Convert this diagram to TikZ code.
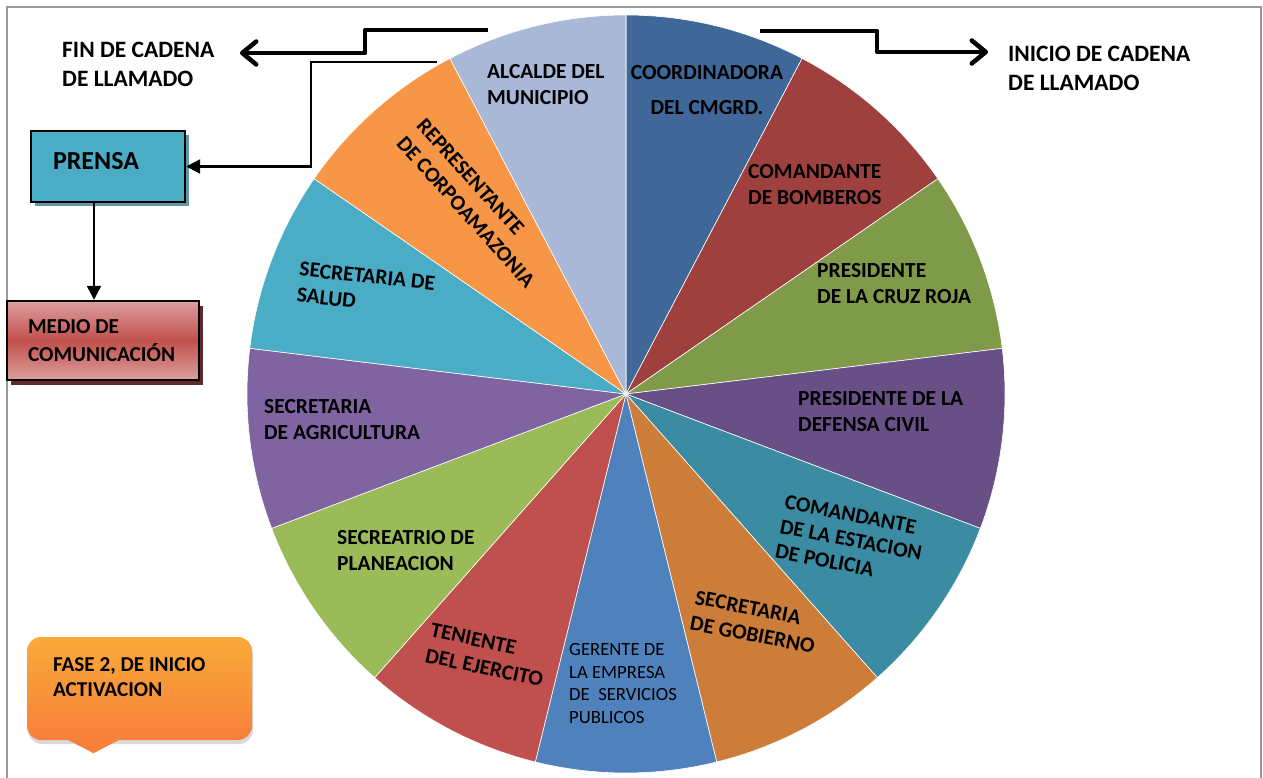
\documentclass[tikz,border=0pt]{standalone}
\usepackage{fontspec}
\setmainfont{Carlito}
\usetikzlibrary{arrows.meta,shadows}

\definecolor{coordblue}{HTML}{3F6797}
\definecolor{bomberred}{HTML}{9E413E}
\definecolor{cruzgreen}{HTML}{7F9A48}
\definecolor{civilpurple}{HTML}{684F86}
\definecolor{policeteal}{HTML}{3B8CA2}
\definecolor{gobierno}{HTML}{CC7D3A}
\definecolor{gerenteblue}{HTML}{4F81BD}
\definecolor{ejercitored}{HTML}{C0504D}
\definecolor{planegreen}{HTML}{9BBB59}
\definecolor{agripurple}{HTML}{8064A2}
\definecolor{saludaqua}{HTML}{4BACC6}
\definecolor{corpoorange}{HTML}{F79646}
\definecolor{alcaldeblue}{HTML}{A9B8D7}
\definecolor{framegray}{HTML}{9A9A9A}

\begin{document}
\begin{tikzpicture}[x=1pt, y=1pt,
        slice/.style={draw=white, line width=0.6pt},
        pielabel/.style={font=\fontsize{21.5}{26}\selectfont\bfseries, align=left, inner sep=0pt},
        chainlabel/.style={font=\fontsize{23.5}{29}\selectfont\bfseries, align=left, inner sep=0pt},
        chain/.style={line width=4.5pt, line join=round, -{Straight Barb[length=14pt, width=23pt, round]}},
        feed/.style={line width=2.3pt, -{Triangle[length=14pt, width=14pt]}},
        prensabox/.style={draw, line width=2.4pt, fill=saludaqua, minimum width=154pt, minimum height=71pt,
            inner xsep=22pt, text width=110pt, align=flush left, text depth=12pt,
            font=\fontsize{26}{31}\selectfont\bfseries,
            drop shadow={fill=saludaqua!50!gray, opacity=1, shadow xshift=4pt, shadow yshift=-4pt}},
        mediobox/.style={draw, line width=2.4pt, top color=ejercitored!55!white, bottom color=ejercitored!55!white,
            middle color=ejercitored, minimum width=192pt, minimum height=79pt,
            inner xsep=21pt, text width=150pt, align=flush left,
            font=\fontsize{21.3}{28}\selectfont\bfseries,
            drop shadow={fill=ejercitored!50!black, opacity=1, shadow xshift=4pt, shadow yshift=-5pt}},
        fasebox/.style={rounded corners=14pt, top color=corpoorange!80!yellow, bottom color=corpoorange!85!red,
            minimum width=225pt, minimum height=103pt,
            drop shadow={opacity=0.3, shadow xshift=1pt, shadow yshift=-4pt}}]
        \useasboundingbox (0,0) rectangle (1263,777);
        \draw[framegray, line width=2pt] (7,-5) -- (7,770) -- (1261,770) -- (1261,-5);

        % pie of the call chain, clockwise from the top
        \coordinate (ctr) at (626,383);
        \filldraw[slice, fill=coordblue] (ctr) -- ++(90:379) arc[start angle=90, end angle=62.31, radius=379] -- cycle;
        \filldraw[slice, fill=bomberred] (ctr) -- ++(62.31:379) arc[start angle=62.31, end angle=34.62, radius=379] -- cycle;
        \filldraw[slice, fill=cruzgreen] (ctr) -- ++(34.62:379) arc[start angle=34.62, end angle=6.92, radius=379] -- cycle;
        \filldraw[slice, fill=civilpurple] (ctr) -- ++(6.92:379) arc[start angle=6.92, end angle=-20.77, radius=379] -- cycle;
        \filldraw[slice, fill=policeteal] (ctr) -- ++(-20.77:379) arc[start angle=-20.77, end angle=-48.46, radius=379] -- cycle;
        \filldraw[slice, fill=gobierno] (ctr) -- ++(-48.46:379) arc[start angle=-48.46, end angle=-76.15, radius=379] -- cycle;
        \filldraw[slice, fill=gerenteblue] (ctr) -- ++(-76.15:379) arc[start angle=-76.15, end angle=-103.85, radius=379] -- cycle;
        \filldraw[slice, fill=ejercitored] (ctr) -- ++(-103.85:379) arc[start angle=-103.85, end angle=-131.54, radius=379] -- cycle;
        \filldraw[slice, fill=planegreen] (ctr) -- ++(-131.54:379) arc[start angle=-131.54, end angle=-159.23, radius=379] -- cycle;
        \filldraw[slice, fill=agripurple] (ctr) -- ++(-159.23:379) arc[start angle=-159.23, end angle=-186.92, radius=379] -- cycle;
        \filldraw[slice, fill=saludaqua] (ctr) -- ++(-186.92:379) arc[start angle=-186.92, end angle=-214.62, radius=379] -- cycle;
        \filldraw[slice, fill=corpoorange] (ctr) -- ++(-214.62:379) arc[start angle=-214.62, end angle=-242.31, radius=379] -- cycle;
        \filldraw[slice, fill=alcaldeblue] (ctr) -- ++(-242.31:379) arc[start angle=-242.31, end angle=-270, radius=379] -- cycle;

        \node[pielabel, align=center, font=\fontsize{21.5}{35}\selectfont\bfseries] (coord) at (707,686.5) {COORDINADORA\\DEL CMGRD.};
        \node[pielabel, anchor=west] (bomb) at (748,592) {COMANDANTE\\DE BOMBEROS};
        \node[pielabel, anchor=west] (cruz) at (817,493) {PRESIDENTE\\DE LA CRUZ ROJA};
        \node[pielabel, anchor=west] (civil) at (798,365.5) {PRESIDENTE DE LA\\DEFENSA CIVIL};
        \node[pielabel, rotate=-11, font=\fontsize{21.5}{25}\selectfont\bfseries] (policia) at (851,237) {COMANDANTE\\DE LA ESTACION\\DE POLICIA};
        \node[pielabel, rotate=-11] (gob) at (755,155) {SECRETARIA\\DE GOBIERNO};
        \node[pielabel, anchor=west, font=\fontsize{18.7}{22.5}\selectfont] (gerente) at (569,93.5) {GERENTE DE\\LA EMPRESA\\DE\ \ SERVICIOS\\PUBLICOS};
        \node[pielabel, rotate=-12] (teniente) at (487,122) {TENIENTE\\DEL EJERCITO};
        \node[pielabel, anchor=west] (plan) at (337,226.5) {SECREATRIO DE\\PLANEACION};
        \node[pielabel, anchor=west] (agri) at (264,357.5) {SECRETARIA\\DE AGRICULTURA};
        \node[pielabel, rotate=-6] (salud) at (366,488) {SECRETARIA DE\\SALUD};
        \node[pielabel, rotate=-48, font=\fontsize{21.5}{27}\selectfont\bfseries] (corpo) at (476,574) {REPRESENTANTE\\DE CORPOAMAZONIA};
        \node[pielabel, anchor=west] (alcalde) at (487,692.5) {ALCALDE DEL\\MUNICIPIO};

        % start and end of the chain
        \node[chainlabel, anchor=west] (fin) at (62,712.5) {FIN DE CADENA\\DE LLAMADO};
        \node[chainlabel, anchor=west] (inicio) at (1008,709) {INICIO DE CADENA\\DE LLAMADO};
        \coordinate (finstart) at (488,747);
        \coordinate (finend) at (240,724);
        \coordinate (inistart) at (760,746);
        \coordinate (iniend) at (988,725);
        \draw[chain] (finstart) -- ++(-123,0) |- (finend);
        \draw[chain] (inistart) -- ++(117,0) |- (iniend);

        % press branch
        \node[prensabox] (prensa) at (108,610.5) {PRENSA};
        \node[mediobox] (medio) at (103,436.5) {MEDIO DE\\COMUNICACIÓN};
        \coordinate (prstart) at (437,715);
        \draw[feed] (prstart) -- ++(-126,0) |- (prensa.east);
        \draw[feed] ([xshift=-14pt]prensa.south) -- ([xshift=-14pt]prensa.south |- medio.north);

        \node[fasebox] (fase) at (139.5,88.5) {};
        \fill[corpoorange!85!red] ([xshift=-73pt, yshift=1pt]fase.south) -- ([xshift=-46pt, yshift=-13pt]fase.south) -- ([xshift=-19pt, yshift=1pt]fase.south) -- cycle;
        \node[pielabel, font=\fontsize{21.2}{25}\selectfont\bfseries, anchor=west] (fasetxt) at ([xshift=26pt, yshift=11pt]fase.west) {FASE 2, DE INICIO\\ACTIVACION};
\end{tikzpicture}
\end{document}
